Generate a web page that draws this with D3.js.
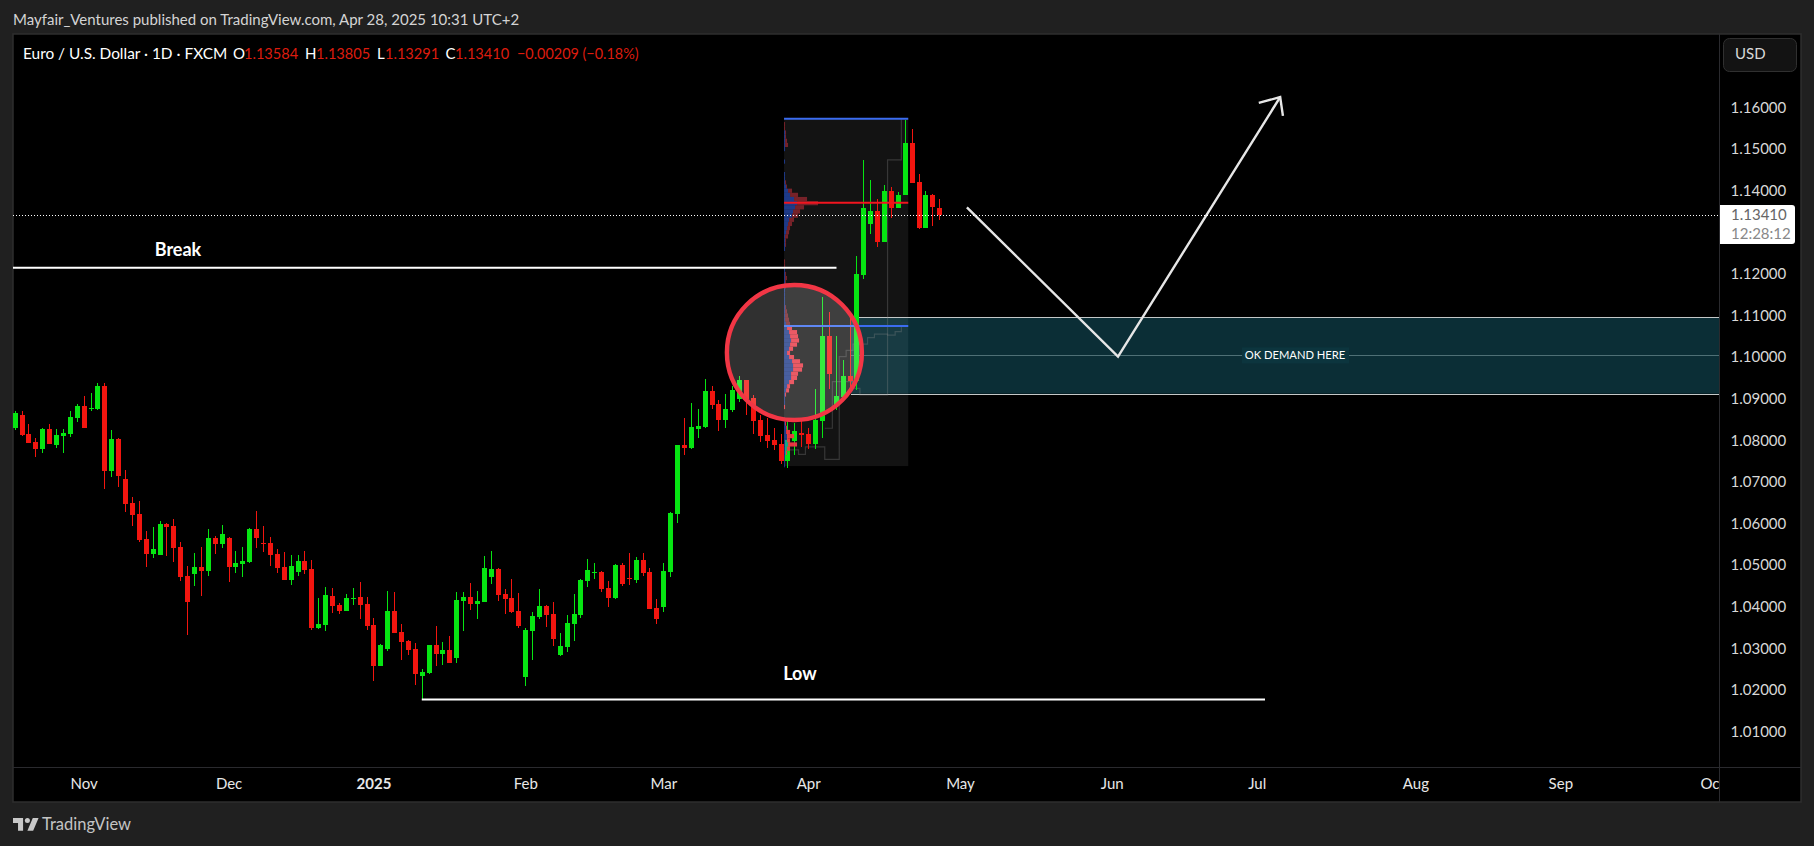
<!DOCTYPE html>
<html>
<head>
<meta charset="utf-8">
<script src="https://cdn.jsdelivr.net/npm/d3@7"></script>
<style>
html, body { margin: 0; padding: 0; background: #202020; overflow: hidden; }
svg { display: block; }
text { font-family: Lato, "Liberation Sans", sans-serif; }
</style>
</head>
<body>
<svg id="chart"></svg>
<script>
// daily EURUSD candles
const open = [1.0830,1.0861,1.0815,1.0796,1.0779,1.0827,1.0789,1.0810,1.0815,1.0854,
  1.0882,1.0875,1.0875,1.0931,1.0726,1.0803,1.0707,1.0649,1.0623,1.0563,
  1.0527,1.0524,1.0599,1.0594,1.0544,1.0474,1.0479,1.0495,1.0486,1.0565,
  1.0551,1.0565,1.0495,1.0503,1.0507,1.0587,1.0553,1.0553,1.0527,1.0495,
  1.0464,1.0483,1.0510,1.0491,1.0349,1.0356,1.0426,1.0404,1.0390,1.0419,
  1.0423,1.0407,1.0356,1.0258,1.0298,1.0390,1.0339,1.0318,1.0298,1.0233,
  1.0241,1.0308,1.0286,1.0296,1.0277,1.0414,1.0423,1.0407,1.0411,1.0471,
  1.0491,1.0431,1.0421,1.0390,1.0231,1.0342,1.0375,1.0402,1.0382,1.0284,
  1.0303,1.0358,1.0380,1.0462,1.0481,1.0483,1.0445,1.0421,1.0500,1.0469,
  1.0464,1.0512,1.0483,1.0397,1.0399,1.0483,1.0623,1.0789,1.0781,1.0827,
  1.0832,1.0919,1.0887,1.0849,1.0873,1.0899,1.0945,1.0902,1.0849,1.0813,
  1.0801,1.0791,1.0750,1.0798,1.0817,1.0815,1.0791,1.0846,1.1051,1.0885,
  1.0904,1.0955,1.0943,1.1197,1.1320,1.1351,1.1277,1.1399,1.1358,1.1390,
  1.1515,1.1421,1.1310,1.1390,1.13584];
const high = [1.0870,1.0870,1.0839,1.0806,1.0830,1.0839,1.0827,1.0827,1.0870,1.0887,
  1.0907,1.0914,1.0938,1.0938,1.0825,1.0806,1.0729,1.0664,1.0654,1.0582,
  1.0592,1.0606,1.0601,1.0611,1.0556,1.0498,1.0529,1.0544,1.0587,1.0570,
  1.0596,1.0568,1.0534,1.0544,1.0589,1.0630,1.0594,1.0568,1.0539,1.0531,
  1.0524,1.0524,1.0534,1.0512,1.0421,1.0447,1.0445,1.0409,1.0431,1.0445,
  1.0459,1.0423,1.0373,1.0310,1.0438,1.0436,1.0358,1.0320,1.0313,1.0250,
  1.0308,1.0354,1.0315,1.0330,1.0436,1.0436,1.0457,1.0438,1.0522,1.0534,
  1.0493,1.0443,1.0467,1.0433,1.0349,1.0387,1.0443,1.0404,1.0411,1.0337,
  1.0380,1.0431,1.0467,1.0515,1.0505,1.0486,1.0462,1.0503,1.0505,1.0529,
  1.0519,1.0529,1.0493,1.0418,1.0505,1.0628,1.0789,1.0854,1.0890,1.0875,
  1.0947,1.0931,1.0897,1.0911,1.0931,1.0955,1.0945,1.0909,1.0861,1.0854,
  1.0830,1.0815,1.0849,1.0841,1.0849,1.0830,1.0923,1.1145,1.1108,1.1051,
  1.0993,1.1096,1.1243,1.1474,1.1426,1.1380,1.1414,1.1409,1.1397,1.1570,
  1.1548,1.1440,1.1399,1.1392,1.13805];
const low = [1.0825,1.0810,1.0794,1.0760,1.0769,1.0791,1.0781,1.0769,1.0808,1.0844,
  1.0830,1.0870,1.0873,1.0683,1.0712,1.0688,1.0628,1.0594,1.0556,1.0495,
  1.0517,1.0524,1.0522,1.0507,1.0462,1.0332,1.0450,1.0426,1.0474,1.0527,
  1.0541,1.0459,1.0481,1.0471,1.0505,1.0541,1.0531,1.0498,1.0481,1.0464,
  1.0452,1.0474,1.0479,1.0344,1.0346,1.0342,1.0385,1.0382,1.0390,1.0404,
  1.0371,1.0344,1.0221,1.0258,1.0294,1.0337,1.0272,1.0284,1.0212,1.0176,
  1.0238,1.0258,1.0260,1.0265,1.0265,1.0342,1.0392,1.0371,1.0411,1.0455,
  1.0414,1.0382,1.0385,1.0349,1.0210,1.0272,1.0371,1.0351,1.0306,1.0282,
  1.0291,1.0318,1.0373,1.0447,1.0467,1.0435,1.0399,1.0418,1.0450,1.0452,
  1.0457,1.0474,1.0394,1.0358,1.0387,1.0471,1.0601,1.0765,1.0779,1.0806,
  1.0830,1.0875,1.0822,1.0830,1.0868,1.0892,1.0861,1.0815,1.0796,1.0781,
  1.0777,1.0743,1.0733,1.0765,1.0784,1.0779,1.0779,1.0806,1.0923,1.0873,
  1.0897,1.0921,1.0921,1.1188,1.1296,1.1265,1.1277,1.1334,1.1358,1.1390,
  1.1419,1.1308,1.1310,1.1315,1.13291];
const close = [1.0866,1.0813,1.0794,1.0779,1.0827,1.0791,1.0813,1.0818,1.0856,1.0882,
  1.0830,1.0878,1.0931,1.0726,1.0803,1.0714,1.0647,1.0620,1.0560,1.0527,
  1.0539,1.0599,1.0592,1.0541,1.0471,1.0411,1.0495,1.0486,1.0565,1.0551,
  1.0575,1.0495,1.0505,1.0510,1.0587,1.0565,1.0551,1.0524,1.0493,1.0464,
  1.0498,1.0510,1.0488,1.0349,1.0358,1.0428,1.0402,1.0390,1.0421,1.0421,
  1.0404,1.0354,1.0258,1.0308,1.0390,1.0337,1.0315,1.0296,1.0238,1.0243,
  1.0308,1.0286,1.0296,1.0265,1.0416,1.0423,1.0407,1.0414,1.0493,1.0491,
  1.0428,1.0419,1.0387,1.0354,1.0344,1.0378,1.0402,1.0380,1.0322,1.0306,
  1.0361,1.0382,1.0464,1.0488,1.0483,1.0443,1.0421,1.0500,1.0455,1.0467,
  1.0512,1.0481,1.0394,1.0370,1.0486,1.0625,1.0789,1.0781,1.0832,1.0834,
  1.0919,1.0885,1.0849,1.0875,1.0921,1.0945,1.0899,1.0846,1.0810,1.0798,
  1.0789,1.0750,1.0801,1.0822,1.0813,1.0791,1.0849,1.1051,1.0959,1.0906,
  1.0955,1.0943,1.1200,1.1358,1.1351,1.1277,1.1399,1.1358,1.1390,1.1515,
  1.1419,1.1310,1.1390,1.1361,1.13410];

const priceTicks = [1.16,1.15,1.14,1.12,1.11,1.10,1.09,1.08,1.07,1.06,1.05,1.04,1.03,1.02,1.01];
const monthBars = [10,31,52,74,94,115,137,159,180,203,224,246];
const monthLabels = ['Nov','Dec','2025','Feb','Mar','Apr','May','Jun','Jul','Aug','Sep','Oct'];

// fixed range volume profile, one row per 0.001, widths in px-like units
const profilePrices = [1.157,1.156,1.155,1.154,1.153,1.152,1.151,1.150,1.149,1.148,1.147,1.146,1.145,1.144,1.143,1.142,1.141,1.140,1.139,1.138,
  1.137,1.136,1.135,1.134,1.133,1.132,1.131,1.130,1.129,1.128,1.127,1.126,1.125,1.124,1.123,1.122,1.121,1.120,1.119,1.118,
  1.117,1.116,1.115,1.114,1.113,1.112,1.111,1.110,1.109,1.108,1.107,1.106,1.105,1.104,1.103,1.102,1.101,1.100,1.099,1.098,
  1.097,1.096,1.095,1.094,1.093,1.092,1.091,1.090,1.089,1.088,1.087,1.086,1.085,1.084,1.083,1.082,1.081,1.080,1.079,1.078,
  1.077,1.076,1.075,1.074];
const profileTotal = [0,1,1,2,2,3,4,1,0,0,1,0,0,1,1,2,3,8,14,23,
  34,20,16,14,10,8,6,5,4,2,2,1,0,0,1,1,1,2,3,2,
  2,1,1,1,1,2,3,4,5,6,8,13,14,15,13,9,6,10,16,19,
  18,14,13,10,6,5,2,1,1,1,0,0,1,2,3,6,10,6,13,6,
  3,1,1,1];
const profileBlue = [0,0,0,1,1,1,1,1,0,0,1,0,0,1,1,1,2,4,6,10,
  13,11,9,8,5,4,3,2,1,1,1,1,0,0,0,0,1,1,1,1,
  1,1,1,1,1,1,1,1,1,2,3,5,6,7,6,5,3,5,8,9,
  9,7,7,5,3,2,1,1,1,0,0,0,1,1,2,2,3,3,4,3,
  2,1,1,1];

// volume profile box: bars and prices
const profileFirstBar = 111.5, profileLastBar = 129.5;
const profileHigh = 1.1573, profileLow = 1.0738, profilePoc = 1.1371, profileVah = 1.1075;

const stairABars = [112,113.6,114.6,117.4,119.5,120.5,121.5,123.6,124.6,126.5,127.6,128.5];
const stairAPrices = [1.0777,1.0766,1.0784,1.0754,1.1001,1.1016,1.1031,1.1047,1.1055,1.1053,1.1061,1.1075];
const stairBBars = [117.4,118.5,121.5,122.5,126.5,128.5];
const stairBPrices = [1.0829,1.0941,1.0925,1.0909,1.1474,1.1571];

// drawings
const lastPrice = 1.1341;
const breakPrice = 1.1215, breakEndBar = 119.1;
const lowPrice = 1.01769, lowStartBar = 59, lowEndBar = 181.2;
const zoneTop = 1.10957, zoneMid = 1.1004, zoneBottom = 1.0912, zoneStartBar = 121.2;
const arrowBars = [138,159.9,183.4], arrowPrices = [1.1360,1.1001,1.1625];
const barbBars = [180.3,183.4,183.8], barbPrices = [1.1611,1.1625,1.1580];
const circleBar = 113, circlePrice = 1.1011;

const width = 1814, height = 846;
const pane = { left: 13, top: 34, right: 1801, bottom: 802, axisX: 1719.5, axisY: 767 };
const green = '#06e512', red = '#f2150f';

const svg = d3.select('#chart').attr('width', width).attr('height', height);

const xScale = d3.scaleLinear().domain([0, 134]).range([14.67, 939.3]);
const yScale = d3.scaleLinear().domain([1.16, 1.01]).range([107.5, 731.5]);

svg.append('defs').append('clipPath').attr('id', 'plot')
  .append('rect').attr('x', pane.left).attr('y', pane.top)
  .attr('width', pane.axisX - pane.left).attr('height', pane.axisY - pane.top);

svg.append('rect').attr('x', pane.left).attr('y', pane.top)
  .attr('width', pane.right - pane.left).attr('height', pane.bottom - pane.top)
  .attr('fill', '#000').attr('stroke', '#2e2e2e').attr('stroke-width', 1.5);

const plot = svg.append('g').attr('clip-path', 'url(#plot)');

// profile background
plot.append('rect')
  .attr('x', xScale(profileFirstBar)).attr('y', yScale(profileHigh))
  .attr('width', xScale(profileLastBar) - xScale(profileFirstBar))
  .attr('height', yScale(profileLow) - yScale(profileHigh))
  .attr('fill', '#131313');

// demand zone
plot.append('rect')
  .attr('x', xScale(zoneStartBar)).attr('y', yScale(zoneTop))
  .attr('width', pane.axisX - xScale(zoneStartBar))
  .attr('height', yScale(zoneBottom) - yScale(zoneTop))
  .attr('fill', 'rgb(40,170,200)').attr('fill-opacity', 0.27);
[zoneTop, zoneBottom].forEach(p => {
  plot.append('line')
    .attr('x1', xScale(zoneStartBar)).attr('x2', pane.axisX)
    .attr('y1', Math.round(yScale(p)) + 0.5).attr('y2', Math.round(yScale(p)) + 0.5)
    .attr('stroke', '#c4c8c8').attr('stroke-width', 1.2);
});
plot.append('line')
  .attr('x1', xScale(zoneStartBar)).attr('x2', pane.axisX)
  .attr('y1', Math.round(yScale(zoneMid)) + 0.5).attr('y2', Math.round(yScale(zoneMid)) + 0.5)
  .attr('stroke', '#4f7076').attr('stroke-width', 1);

// stair lines inside the profile
const stair = d3.line().x(d => xScale(d[0])).y(d => yScale(d[1])).curve(d3.curveStepAfter);
[[stairABars, stairAPrices], [stairBBars, stairBPrices]].forEach(([bars, prices]) => {
  plot.append('path').attr('d', stair(bars.map((b, i) => [b, prices[i]])))
    .attr('fill', 'none').attr('stroke', '#8a8a8a').attr('stroke-opacity', 0.3).attr('stroke-width', 1.2);
});

// candles
const candles = plot.append('g').attr('shape-rendering', 'crispEdges').selectAll('g')
  .data(open.map((o, i) => ({ i, o, h: high[i], l: low[i], c: close[i] })))
  .enter().append('g');
candles.append('rect')
  .attr('x', d => Math.round(xScale(d.i)))
  .attr('width', 1)
  .attr('y', d => yScale(d.h))
  .attr('height', d => yScale(d.l) - yScale(d.h))
  .attr('fill', d => d.c >= d.o ? green : red);
candles.append('rect')
  .attr('x', d => Math.round(xScale(d.i)) - 2)
  .attr('width', 5)
  .attr('y', d => yScale(Math.max(d.o, d.c)))
  .attr('height', d => Math.max(1, Math.abs(yScale(d.o) - yScale(d.c))))
  .attr('fill', d => d.c >= d.o ? green : red);

// volume profile rows
const volX = d3.scaleLinear().domain([0, 34]).range([xScale(profileFirstBar), xScale(profileFirstBar) + 34]);
const rowH = yScale(1.100) - yScale(1.101);
const rows = plot.append('g').selectAll('g')
  .data(profilePrices.map((p, i) => ({ p, total: profileTotal[i], blue: profileBlue[i] })))
  .enter().append('g');
rows.append('rect')
  .attr('x', d => volX(d.blue)).attr('width', d => volX(d.total) - volX(d.blue))
  .attr('y', d => yScale(d.p) - rowH / 2).attr('height', rowH)
  .attr('fill', '#f23645').attr('fill-opacity', d => d.p <= profileVah ? 0.95 : 0.45);
rows.append('rect')
  .attr('x', volX(0)).attr('width', d => volX(d.blue) - volX(0))
  .attr('y', d => yScale(d.p) - rowH / 2).attr('height', rowH)
  .attr('fill', '#2962ff').attr('fill-opacity', 0.5);

// profile high, value area high and POC lines
[[profileHigh, '#3b6cf0'], [profileVah, '#3b6cf0'], [profilePoc, '#f2151f']].forEach(([p, col]) => {
  plot.append('line')
    .attr('x1', xScale(profileFirstBar)).attr('x2', xScale(profileLastBar))
    .attr('y1', yScale(p)).attr('y2', yScale(p))
    .attr('stroke', col).attr('stroke-width', 2);
});

// break and low lines
plot.append('line').attr('x1', pane.left).attr('x2', xScale(breakEndBar))
  .attr('y1', yScale(breakPrice)).attr('y2', yScale(breakPrice))
  .attr('stroke', '#fff').attr('stroke-width', 2);
plot.append('line').attr('x1', xScale(lowStartBar)).attr('x2', xScale(lowEndBar))
  .attr('y1', yScale(lowPrice)).attr('y2', yScale(lowPrice))
  .attr('stroke', '#fff').attr('stroke-width', 2);
plot.append('text').attr('x', 178).attr('y', 256).attr('text-anchor', 'middle')
  .attr('fill', '#fff').attr('font-size', 18).attr('font-weight', 'bold').text('Break');
plot.append('text').attr('x', 800).attr('y', 680).attr('text-anchor', 'middle')
  .attr('fill', '#fff').attr('font-size', 18).attr('font-weight', 'bold').text('Low');

// zone label, with the gap in the mid line
plot.append('rect').attr('x', 1242).attr('y', yScale(zoneMid) - 8).attr('width', 107).attr('height', 16)
  .attr('fill', '#0c353e');
plot.append('text').attr('x', 1295).attr('y', yScale(zoneMid) + 4).attr('text-anchor', 'middle')
  .attr('fill', '#fff').attr('font-size', 11.2).text('OK DEMAND HERE');

// projected path
const zigzag = d3.line().x(d => xScale(d[0])).y(d => yScale(d[1]));
plot.append('path').attr('d', zigzag(arrowBars.map((b, i) => [b, arrowPrices[i]])))
  .attr('fill', 'none').attr('stroke', '#e6e6e6').attr('stroke-width', 2.4);
plot.append('path').attr('d', zigzag(barbBars.map((b, i) => [b, barbPrices[i]])))
  .attr('fill', 'none').attr('stroke', '#e6e6e6').attr('stroke-width', 2.4);

// circle highlight
plot.append('circle').attr('cx', xScale(circleBar)).attr('cy', yScale(circlePrice)).attr('r', 67.5)
  .attr('fill', '#fff').attr('fill-opacity', 0.19)
  .attr('stroke', '#f23645').attr('stroke-width', 4.4);

// last price line
plot.append('line').attr('x1', pane.left).attr('x2', pane.axisX)
  .attr('y1', Math.round(yScale(lastPrice)) + 0.5).attr('y2', Math.round(yScale(lastPrice)) + 0.5)
  .attr('stroke', '#fff').attr('stroke-dasharray', '1 2');

// axes
const yAxis = svg.append('g').attr('transform', `translate(${pane.axisX},0)`)
  .call(d3.axisRight(yScale).tickValues(priceTicks).tickFormat(d3.format('.5f')).tickSize(0).tickPadding(11));
yAxis.select('.domain').remove();
yAxis.selectAll('text').attr('fill', '#d8d8d8').attr('font-size', 15);

const xAxis = svg.append('g').attr('transform', `translate(0,${pane.axisY})`).attr('clip-path', 'url(#timeClip)')
  .call(d3.axisBottom(xScale).tickValues(monthBars).tickFormat((d, i) => monthLabels[i]).tickSize(0).tickPadding(11));
d3.select('defs').append('clipPath').attr('id', 'timeClip')
  .append('rect').attr('x', pane.left).attr('y', 0).attr('width', pane.axisX - pane.left).attr('height', 35);
xAxis.select('.domain').remove();
xAxis.selectAll('text').attr('fill', '#e8e8e8').attr('font-size', 15)
  .attr('font-weight', (d, i) => monthLabels[i] === '2025' ? 'bold' : 'normal');

// separators
svg.append('line').attr('x1', pane.left).attr('x2', pane.right).attr('y1', pane.axisY + 0.5).attr('y2', pane.axisY + 0.5).attr('stroke', '#2a2a2e');
svg.append('line').attr('x1', pane.axisX).attr('x2', pane.axisX).attr('y1', pane.top).attr('y2', pane.bottom).attr('stroke', '#2a2a2e');

// USD button
svg.append('rect').attr('x', 1723.5).attr('y', 38.5).attr('width', 73).attr('height', 33).attr('rx', 6)
  .attr('fill', '#131313').attr('stroke', '#303030');
svg.append('text').attr('x', 1735).attr('y', 59).attr('fill', '#d8d8d8').attr('font-size', 15).text('USD');

// last price tag
svg.append('path').attr('d', 'M1720 205H1792q3 0 3 3V241q0 3 -3 3H1720Z').attr('fill', '#fff');
svg.append('text').attr('x', 1731).attr('y', 220).attr('fill', '#666').attr('font-size', 15).text(lastPrice.toFixed(5));
svg.append('text').attr('x', 1731).attr('y', 239).attr('fill', '#888').attr('font-size', 15).text('12:28:12');

// header and legend
svg.append('text').attr('x', 13).attr('y', 25).attr('fill', '#d4d4d4').attr('font-size', 15)
  .text('Mayfair_Ventures published on TradingView.com, Apr 28, 2025 10:31 UTC+2');

const legendWhite = '#fff', legendRed = '#dd1c0e';
const legend = [
  ['Euro / U.S. Dollar · 1D · FXCM', 23, legendWhite, 15.4], ['O', 233, legendWhite, 15], ['1.13584', 244, legendRed, 14.6],
  ['H', 305, legendWhite, 15], ['1.13805', 316, legendRed, 14.6], ['L', 377, legendWhite, 15], ['1.13291', 385, legendRed, 14.6],
  ['C', 445.5, legendWhite, 15], ['1.13410', 455, legendRed, 14.6], ['−0.00209 (−0.18%)', 517, legendRed, 14.4]
];
legend.forEach(([t, x, col, size]) => {
  svg.append('text').attr('x', x).attr('y', 59).attr('fill', col).attr('font-size', size).text(t);
});

// footer logo
svg.append('path').attr('transform', 'translate(13,815) scale(0.72)')
  .attr('d', 'M14 22H7V11H0V4h14v18zM28 22h-8l7.5-18h8L28 22z').attr('fill', '#c8c8c8');
svg.append('circle').attr('transform', 'translate(13,815) scale(0.72)').attr('cx', 20).attr('cy', 7.5).attr('r', 3.5).attr('fill', '#c8c8c8');
svg.append('text').attr('x', 42).attr('y', 830).attr('fill', '#c4c4c4').attr('font-size', 16.5).text('TradingView');
</script>
</body>
</html>
